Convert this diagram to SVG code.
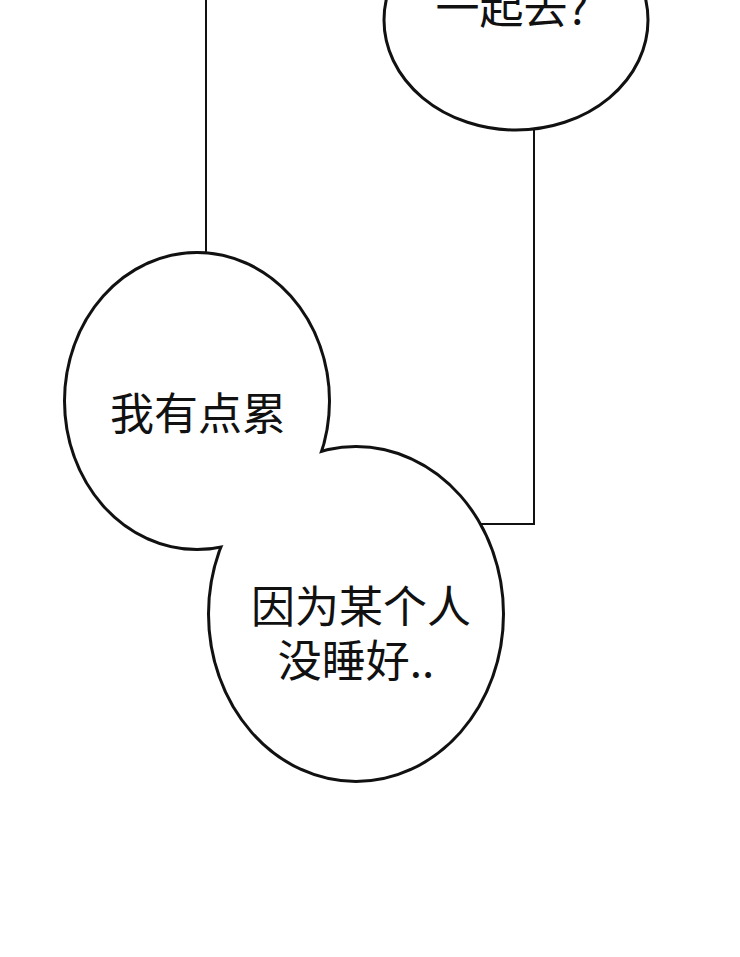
<svg xmlns="http://www.w3.org/2000/svg" width="740" height="957" viewBox="0 0 740 957">
<style>
.t{font-family:"Noto Sans CJK SC","Noto Sans",sans-serif;font-size:44px;fill:#111;text-anchor:middle}
.ln{stroke:#111;stroke-width:2;fill:none}
</style>
<rect width="740" height="957" fill="#fff"/>
<g id="connectors">
<path class="ln" d="M206 0 V258"/>
<path class="ln" d="M534 128 V524 H468"/>
</g>
<g id="top">
<ellipse cx="516" cy="20" rx="132" ry="110" fill="#fff" stroke="#111" stroke-width="3"/>
<text class="t" x="512" y="24">一起去?</text>
</g>
<g id="pair">
<ellipse cx="197" cy="401" rx="131" ry="147" fill="#111" stroke="#111" stroke-width="6"/>
<ellipse cx="356" cy="614" rx="146" ry="166" fill="#111" stroke="#111" stroke-width="6"/>
<ellipse cx="197" cy="401" rx="131" ry="147" fill="#fff"/>
<ellipse cx="356" cy="614" rx="146" ry="166" fill="#fff"/>
<text class="t" x="198" y="430">我有点累</text>
<text class="t" x="361" y="623">因为某个人</text>
<text class="t" x="356" y="677">没睡好..</text>
</g>
</svg>
